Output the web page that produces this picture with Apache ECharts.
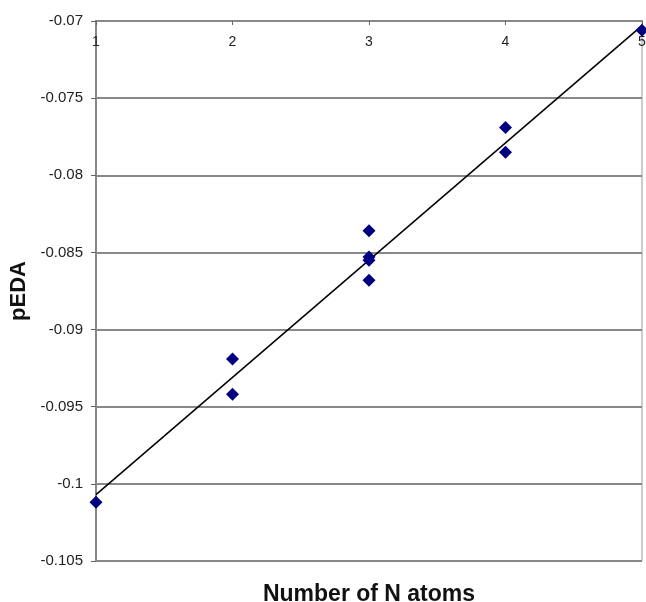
<!DOCTYPE html>
<html>
<head>
<meta charset="utf-8">
<script src="https://cdn.jsdelivr.net/npm/echarts@6/dist/echarts.min.js"></script>
<style>html,body{margin:0;padding:0;background:#fff}#c{width:646px;height:602px}</style>
</head>
<body>
<div id="c"></div>
<script>
// Data
const nAtoms = [1, 2, 2, 3, 3, 3, 3, 4, 4, 5];
const pEDA = [-0.1012, -0.0919, -0.0942, -0.0836, -0.0853, -0.0855, -0.0868, -0.0769, -0.0785, -0.0706];
const trendX = [1, 5];
const trendY = [-0.1007, -0.0703];
const xTicks = [1, 2, 3, 4, 5];
const yTicks = [-0.105, -0.1, -0.095, -0.09, -0.085, -0.08, -0.075, -0.07];

const chart = echarts.init(document.getElementById('c'), null, {renderer: 'canvas'});
const font = '"Liberation Sans", Arial, sans-serif';
chart.setOption({
  animation: false,
  backgroundColor: '#fff',
  grid: {left: 96, top: 21, right: 4, bottom: 41, show: true, borderColor: '#999', borderWidth: 1,
    backgroundColor: 'transparent', containLabel: false, outerBoundsMode: 'none'},
  xAxis: {
    type: 'value', position: 'top',
    min: xTicks[0], max: xTicks[xTicks.length - 1], interval: 1,
    name: 'Number of N atoms', nameLocation: 'middle',
    nameGap: -585,
    nameTextStyle: {fontFamily: font, fontWeight: 'bold', fontSize: 23, color: '#111'},
    axisLine: {show: true, lineStyle: {color: '#888', width: 2}},
    axisTick: {show: true, inside: true, length: 4, lineStyle: {color: '#666'}},
    axisLabel: {inside: true, margin: 14, fontFamily: font, fontSize: 14, color: '#222'},
    splitLine: {show: false}
  },
  yAxis: {
    type: 'value',
    min: yTicks[0], max: yTicks[yTicks.length - 1], interval: 0.005,
    name: 'pEDA', nameLocation: 'middle', nameGap: 59, nameRotate: 90,
    nameTextStyle: {fontFamily: font, fontWeight: 'bold', fontSize: 22, color: '#111'},
    axisLine: {show: true, lineStyle: {color: '#888', width: 2}},
    axisTick: {show: true, length: 5, lineStyle: {color: '#666'}},
    axisLabel: {margin: 13, fontFamily: font, fontSize: 15, color: '#222',
      formatter: v => String(parseFloat(v.toFixed(4)))},
    splitLine: {show: true, lineStyle: {color: '#888', width: 2}}
  },
  series: [
    {
      type: 'line', data: trendX.map((x, i) => [x, trendY[i]]),
      symbol: 'none', lineStyle: {color: '#000', width: 1.5}, z: 2
    },
    {
      type: 'scatter', data: nAtoms.map((x, i) => [x, pEDA[i]]),
      symbol: 'diamond', symbolSize: 13, itemStyle: {color: '#000080', opacity: 1}, z: 3
    }
  ]
});
</script>
</body>
</html>
